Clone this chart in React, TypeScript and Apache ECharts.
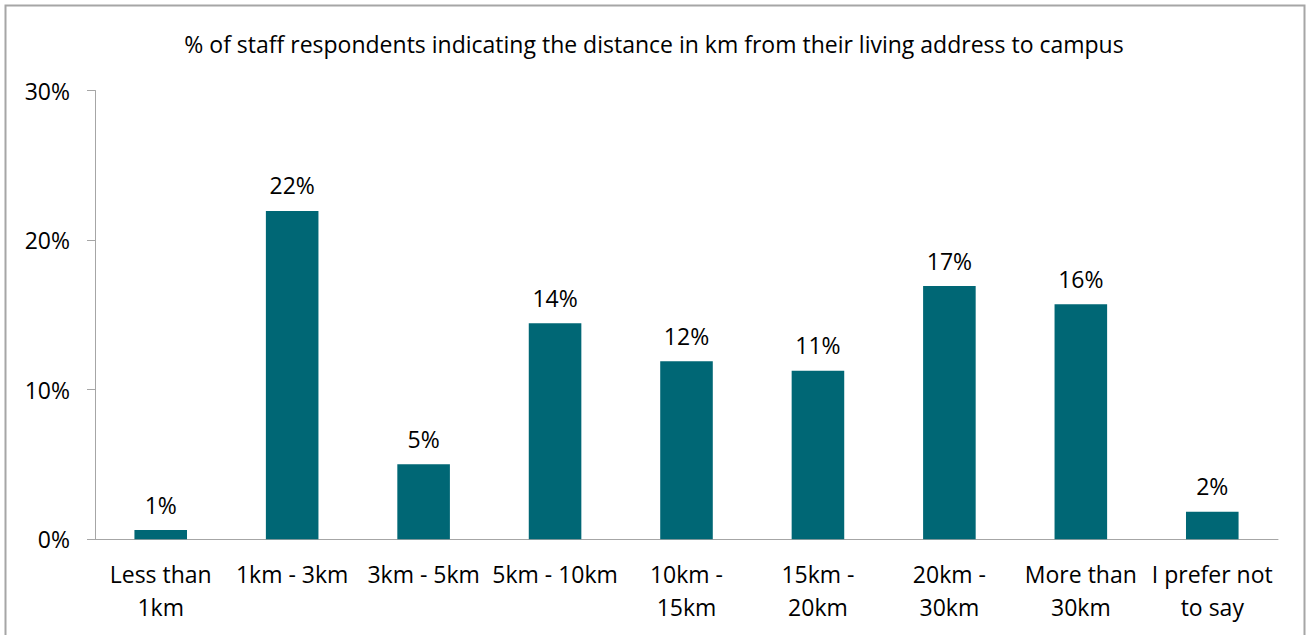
import React, { useEffect, useRef } from "react";
import * as echarts from "echarts";

const categories = [
  "Less than\n1km",
  "1km - 3km",
  "3km - 5km",
  "5km - 10km",
  "10km -\n15km",
  "15km -\n20km",
  "20km -\n30km",
  "More than\n30km",
  "I prefer not\nto say",
];
const values = [0.62, 21.95, 5.01, 14.44, 11.9, 11.27, 16.93, 15.71, 1.84];
const titleText =
  "% of staff respondents indicating the distance in km from their living address to campus";
const yTicks = [0, 10, 20, 30];

const FONT = "Open Sans";

export default function App() {
  const ref = useRef<HTMLDivElement>(null);
  useEffect(() => {
    if (!ref.current) return;
    const chart = echarts.init(ref.current, null, { renderer: "svg" });
    chart.setOption({
      animation: false,
      backgroundColor: "#ffffff",
      title: {
        text: titleText,
        left: "center",
        top: 27,
        textStyle: { fontFamily: FONT, fontSize: 23, fontWeight: "normal", color: "#000" },
      },
      graphic: [
        {
          type: "rect",
          shape: { x: 5.5, y: 5.5, width: 1299, height: 700 },
          style: { fill: "none", stroke: "#a6a6a6", lineWidth: 2 },
          silent: true,
        },
      ],
      grid: { left: 95, right: 30, top: 90.5, bottom: 95.7, containLabel: false },
      xAxis: {
        type: "category",
        data: categories,
        axisLine: { lineStyle: { color: "#a6a6a6", width: 1 } },
        axisTick: { show: false },
        axisLabel: {
          interval: 0,
          fontFamily: FONT,
          fontSize: 23,
          color: "#000",
          margin: 18,
          lineHeight: 33,
        },
      },
      yAxis: {
        type: "value",
        min: yTicks[0],
        max: yTicks[yTicks.length - 1],
        interval: 10,
        axisLine: { show: true, lineStyle: { color: "#a6a6a6", width: 1 } },
        axisTick: { show: true, length: 8, lineStyle: { color: "#a6a6a6" } },
        splitLine: { show: false },
        axisLabel: {
          formatter: "{value}%",
          fontFamily: FONT,
          fontSize: 23,
          color: "#000",
          margin: 25,
        },
      },
      series: [
        {
          type: "bar",
          data: values,
          barWidth: "40%",
          itemStyle: { color: "#006775" },
          label: {
            show: true,
            position: "top",
            distance: 14,
            fontFamily: FONT,
            fontSize: 23,
            color: "#000",
            formatter: (p: any) => Math.round(p.value) + "%",
          },
        },
      ],
    });
    return () => chart.dispose();
  }, []);
  return (
    <div
      ref={ref}
      style={{ position: "fixed", left: 0, top: 0, width: 1308, height: 635 }}
    />
  );
}
